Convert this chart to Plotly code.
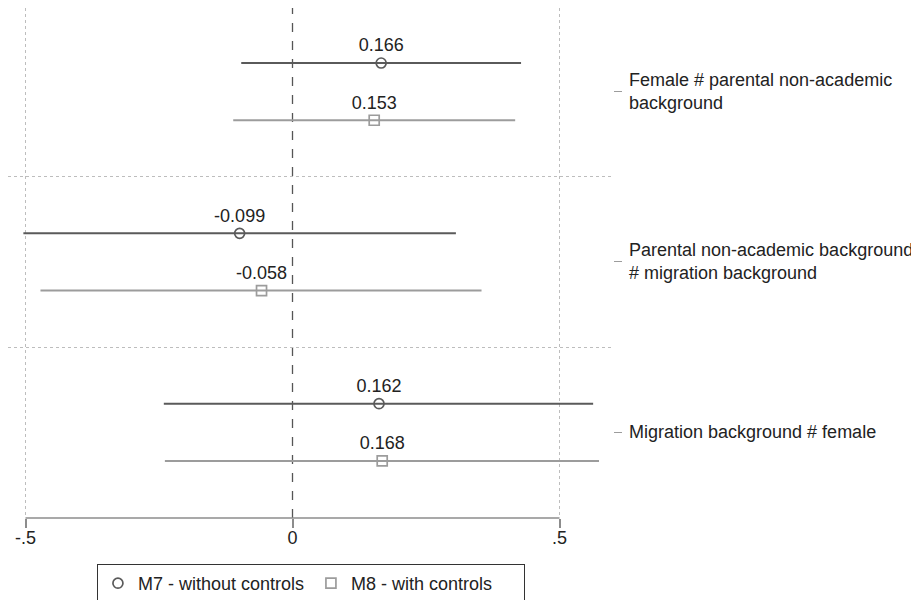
import plotly.graph_objects as go

# ---- data ----
group_labels = [
    "Female # parental non-academic<br>background",
    "Parental non-academic background<br># migration background",
    "Migration background # female",
]
m7_name = "M7 - without controls"
m7_coef = [0.166, -0.099, 0.162]
m7_lo = [-0.096, -0.504, -0.241]
m7_hi = [0.428, 0.306, 0.563]

m8_name = "M8 - with controls"
m8_coef = [0.153, -0.058, 0.168]
m8_lo = [-0.111, -0.472, -0.239]
m8_hi = [0.417, 0.354, 0.574]

x_tickvals = [-0.5, 0, 0.5]
x_ticktext = ["-.5", "0", ".5"]

# ---- layout helpers ----
n = len(group_labels)
ypos = [n - i for i in range(n)]
separators = [p + 0.5 for p in ypos[1:]]
off = 0.168
FONT = "Liberation Sans, Arial, sans-serif"
FS = 18
C7 = "#5a5a5a"
C8 = "#9c9c9c"
TXT = "#222222"


def trace(name, coef, lo, hi, shift, color, symbol):
    return go.Scatter(
        x=coef,
        y=[p + shift for p in ypos],
        mode="markers+text",
        name=name,
        text=[f"{v:.3f}" for v in coef],
        textposition="top center",
        textfont=dict(size=FS, color=TXT, family=FONT),
        marker=dict(symbol=symbol, size=10, color=color,
                    line=dict(color=color, width=1.7)),
        error_x=dict(type="data", symmetric=False,
                     array=[h - c for h, c in zip(hi, coef)],
                     arrayminus=[c - l for c, l in zip(coef, lo)],
                     color=color, thickness=2, width=0),
        cliponaxis=False,
    )


fig = go.Figure()
fig.add_trace(trace(m7_name, m7_coef, m7_lo, m7_hi, off, C7, "circle-open"))
fig.add_trace(trace(m8_name, m8_coef, m8_lo, m8_hi, -off, C8, "square-open"))

# zero reference line (dashed)
fig.add_shape(type="line", x0=0, x1=0, xref="x", y0=0, y1=1, yref="paper",
              line=dict(color="#555555", width=1.3, dash="dash"), layer="below")
# x axis line spanning only the tick range
fig.add_shape(type="line", x0=x_tickvals[0], x1=x_tickvals[-1], xref="x",
              y0=0, y1=0, yref="paper",
              line=dict(color="#8c8c8c", width=1.5), layer="above")

# right-hand category labels
for p, label in zip(ypos, group_labels):
    fig.add_annotation(
        x=1, xref="paper", y=p, yref="y",
        xanchor="left", yanchor="middle", xshift=14, align="left",
        text=label, showarrow=False,
        font=dict(size=FS, family=FONT, color=TXT),
    )

fig.update_layout(
    width=919, height=600,
    margin=dict(l=0, r=314, t=0, b=90),
    plot_bgcolor="white", paper_bgcolor="white",
    font=dict(family=FONT, size=FS, color=TXT),
    showlegend=True,
    legend=dict(orientation="h", x=0.147, xanchor="left", xref="paper",
                y=0.0733, yanchor="top", yref="container",
                bordercolor="#333333", borderwidth=1, bgcolor="white",
                font=dict(size=FS, family=FONT, color=TXT),
                itemwidth=30, entrywidthmode="pixels", entrywidth=168),
    xaxis=dict(range=[-0.5328, 0.6002], tickvals=x_tickvals, ticktext=x_ticktext,
               showgrid=False, zeroline=False, showline=False,
               ticks="outside", ticklen=9, tickcolor="#8c8c8c", tickwidth=1.5,
               ticklabelstandoff=-6,
               tickfont=dict(size=FS, family=FONT, color=TXT),
               minor=dict(tickvals=[x_tickvals[0], x_tickvals[-1]], showgrid=True,
                          gridcolor="#bdbdbd", griddash="dot", gridwidth=1, ticks="")),
    yaxis=dict(range=[0.497, 3.491], side="right", tickvals=ypos,
               showticklabels=False,
               showgrid=False, zeroline=False, showline=False,
               ticks="outside", ticklen=8, tickcolor="#9c9c9c", tickwidth=1,
               minor=dict(tickvals=separators, showgrid=True, gridcolor="#bdbdbd",
                          griddash="dot", gridwidth=1, ticks="")),
)

fig.write_html("out.html")
